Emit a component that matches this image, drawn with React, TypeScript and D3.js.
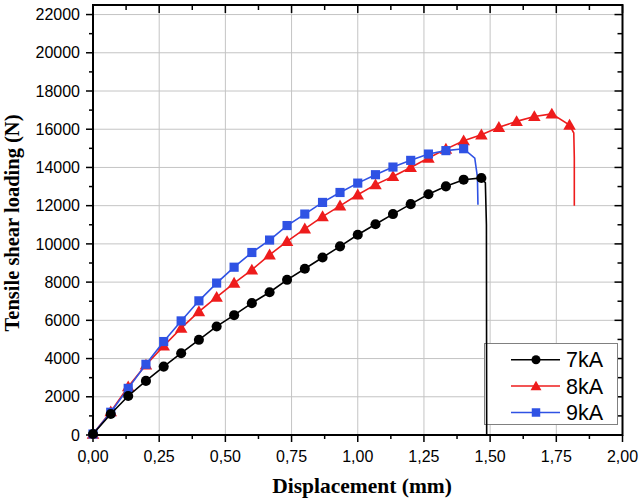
import React, { useEffect, useRef } from "react";
import * as d3 from "d3";

// displacement steps where markers were recorded (mm)
const steps = [
  0, 0.067, 0.133, 0.2, 0.267, 0.333, 0.4, 0.467, 0.533, 0.6, 0.667, 0.733, 0.8, 0.867,
  0.933, 1.0, 1.067, 1.133, 1.2, 1.267, 1.333, 1.4, 1.467, 1.533, 1.6, 1.667, 1.733, 1.8,
];

// loads (N) at each step
const load7kA = [
  50, 1100, 2040, 2830, 3580, 4280, 4980, 5680, 6270, 6900, 7470, 8120, 8700, 9290, 9870,
  10480, 11030, 11560, 12080, 12600, 13010, 13360, 13450,
];
const load8kA = [
  50, 1220, 2530, 3670, 4660, 5590, 6460, 7210, 7950, 8640, 9430, 10130, 10790, 11430, 11990,
  12570, 13100, 13530, 14000, 14490, 14960, 15400, 15710, 16100, 16410, 16670, 16800, 16220,
];
const load9kA = [
  50, 1190, 2440, 3700, 4890, 5970, 7020, 7950, 8780, 9550, 10200, 10960, 11560, 12170, 12690,
  13180, 13620, 14020, 14370, 14700, 14880, 14980,
];

// fracture tails (no markers)
const tail7kA: [number, number][] = [[1.482, 13200], [1.486, 11000], [1.487, 0]];
const tail8kA: [number, number][] = [[1.816, 15800], [1.818, 14500], [1.818, 12000]];
const tail9kA: [number, number][] = [[1.442, 14490], [1.452, 13500], [1.454, 12050]];

const seriesNames = ["7kA", "8kA", "9kA"];
const seriesColors = ["#000000", "#ee1c1c", "#2f52e4"];
const xTicks = [0, 0.25, 0.5, 0.75, 1, 1.25, 1.5, 1.75, 2];
const yTicks = [0, 2000, 4000, 6000, 8000, 10000, 12000, 14000, 16000, 18000, 20000, 22000];

const W = 640;
const H = 502;

const App: React.FC = () => {
  const svgRef = useRef<SVGSVGElement>(null);

  useEffect(() => {
    const svg = d3.select(svgRef.current);
    svg.selectAll("*").remove();

    const left = 93;
    const right = 622.5;
    const top = 5;
    const bottom = 435;

    const x = d3.scaleLinear().domain([0, 2]).range([left, right]);
    const y = d3.scaleLinear().domain([0, 22500]).range([bottom, top]);

    const fmt = (v: number) => v.toFixed(2).replace(".", ",");

    // grid
    const grid = svg.append("g").attr("stroke", "#c4c4c4").attr("stroke-width", 1);
    xTicks.slice(1, -1).forEach((t) => {
      grid.append("line").attr("x1", x(t)).attr("x2", x(t)).attr("y1", top).attr("y2", bottom);
    });
    yTicks.slice(1).forEach((t) => {
      grid.append("line").attr("x1", left).attr("x2", right).attr("y1", y(t)).attr("y2", y(t));
    });

    // ticks
    const tk = svg.append("g").attr("stroke", "#000").attr("stroke-width", 1.5);
    const xMinor = d3.range(0, 2.0001, 0.125);
    xMinor.forEach((t, i) => {
      const major = i % 2 === 0;
      tk.append("line").attr("x1", x(t)).attr("x2", x(t)).attr("y1", bottom).attr("y2", bottom + (major ? 7 : 4));
      tk.append("line").attr("x1", x(t)).attr("x2", x(t)).attr("y1", top).attr("y2", top + (major ? 8 : 5));
    });
    const yMinor = d3.range(0, 22001, 1000);
    yMinor.forEach((t, i) => {
      const major = i % 2 === 0;
      tk.append("line").attr("x1", left).attr("x2", left - (major ? 7 : 4)).attr("y1", y(t)).attr("y2", y(t));
      tk.append("line").attr("x1", right).attr("x2", right - (major ? 8 : 5)).attr("y1", y(t)).attr("y2", y(t));
    });

    // tick labels
    svg
      .append("g")
      .selectAll("text")
      .data(xTicks)
      .enter()
      .append("text")
      .attr("x", (d) => x(d))
      .attr("y", bottom + 26.5)
      .attr("text-anchor", "middle")
      .attr("font-family", "Liberation Sans, Arial, sans-serif")
      .attr("font-size", 16)
      .text((d) => fmt(d));
    svg
      .append("g")
      .selectAll("text")
      .data(yTicks)
      .enter()
      .append("text")
      .attr("x", left - 13)
      .attr("y", (d) => y(d) + 5.7)
      .attr("text-anchor", "end")
      .attr("font-family", "Liberation Sans, Arial, sans-serif")
      .attr("font-size", 16)
      .text((d) => String(d));

    // axis titles
    svg
      .append("text")
      .attr("x", 362)
      .attr("y", 493)
      .attr("text-anchor", "middle")
      .attr("font-family", "Liberation Serif, Times New Roman, serif")
      .attr("font-weight", "bold")
      .attr("font-size", 21.5)
      .text("Displacement (mm)");
    svg
      .append("text")
      .attr("transform", `translate(19,223) rotate(-90)`)
      .attr("text-anchor", "middle")
      .attr("font-family", "Liberation Serif, Times New Roman, serif")
      .attr("font-weight", "bold")
      .attr("font-size", 20.5)
      .text("Tensile shear loading (N)");

    // legend
    const lg = svg.append("g");
    lg.append("rect")
      .attr("x", 484.5)
      .attr("y", 343.5)
      .attr("width", 133)
      .attr("height", 81)
      .attr("fill", "#fff")
      .attr("stroke", "#808080")
      .attr("stroke-width", 1);

    const symbols = [d3.symbolCircle, d3.symbolTriangle, d3.symbolSquare];
    const markerSize = [80, 68, 84];
    const legendSize = [64, 52, 72];
    const loads = [load7kA, load8kA, load9kA];
    const tails = [tail7kA, tail8kA, tail9kA];

    seriesNames.forEach((name, i) => {
      const ry = 359.7 + i * 26.4;
      lg.append("line")
        .attr("x1", 511)
        .attr("x2", 560)
        .attr("y1", ry)
        .attr("y2", ry)
        .attr("stroke", seriesColors[i])
        .attr("stroke-width", 1.5);
      lg.append("path")
        .attr("d", d3.symbol().type(symbols[i]).size(legendSize[i])()!)
        .attr("transform", `translate(536,${ry + (i === 1 ? 1 : 0)})`)
        .attr("fill", seriesColors[i]);
      lg.append("text")
        .attr("x", 566)
        .attr("y", ry + 7.7)
        .attr("font-family", "Liberation Sans, Arial, sans-serif")
        .attr("font-size", 21.5)
        .text(name);
    });

    // series
    const line = d3
      .line<[number, number]>()
      .x((d) => x(d[0]))
      .y((d) => y(d[1]));

    [1, 2, 0].forEach((i) => {
      const pts: [number, number][] = loads[i].map((v, k) => [steps[k], v]);
      const g = svg.append("g");
      g.append("path")
        .attr("d", line([...pts, ...tails[i]])!)
        .attr("fill", "none")
        .attr("stroke", seriesColors[i])
        .attr("stroke-width", 1.6);
      g.selectAll("path.m")
        .data(pts)
        .enter()
        .append("path")
        .attr("class", "m")
        .attr("d", d3.symbol().type(symbols[i]).size(markerSize[i])()!)
        .attr("transform", (d) => `translate(${x(d[0])},${y(d[1]) + (i === 1 ? 1 : 0)})`)
        .attr("fill", seriesColors[i]);
    });

    // frame
    svg
      .append("rect")
      .attr("x", left)
      .attr("y", top)
      .attr("width", right - left)
      .attr("height", bottom - top)
      .attr("fill", "none")
      .attr("stroke", "#000")
      .attr("stroke-width", 2);
  }, []);

  return (
    <div style={{ position: "absolute", left: 0, top: 0 }}>
      <svg ref={svgRef} width={W} height={H} style={{ display: "block", background: "#fff" }}></svg>
    </div>
  );
};

export default App;
